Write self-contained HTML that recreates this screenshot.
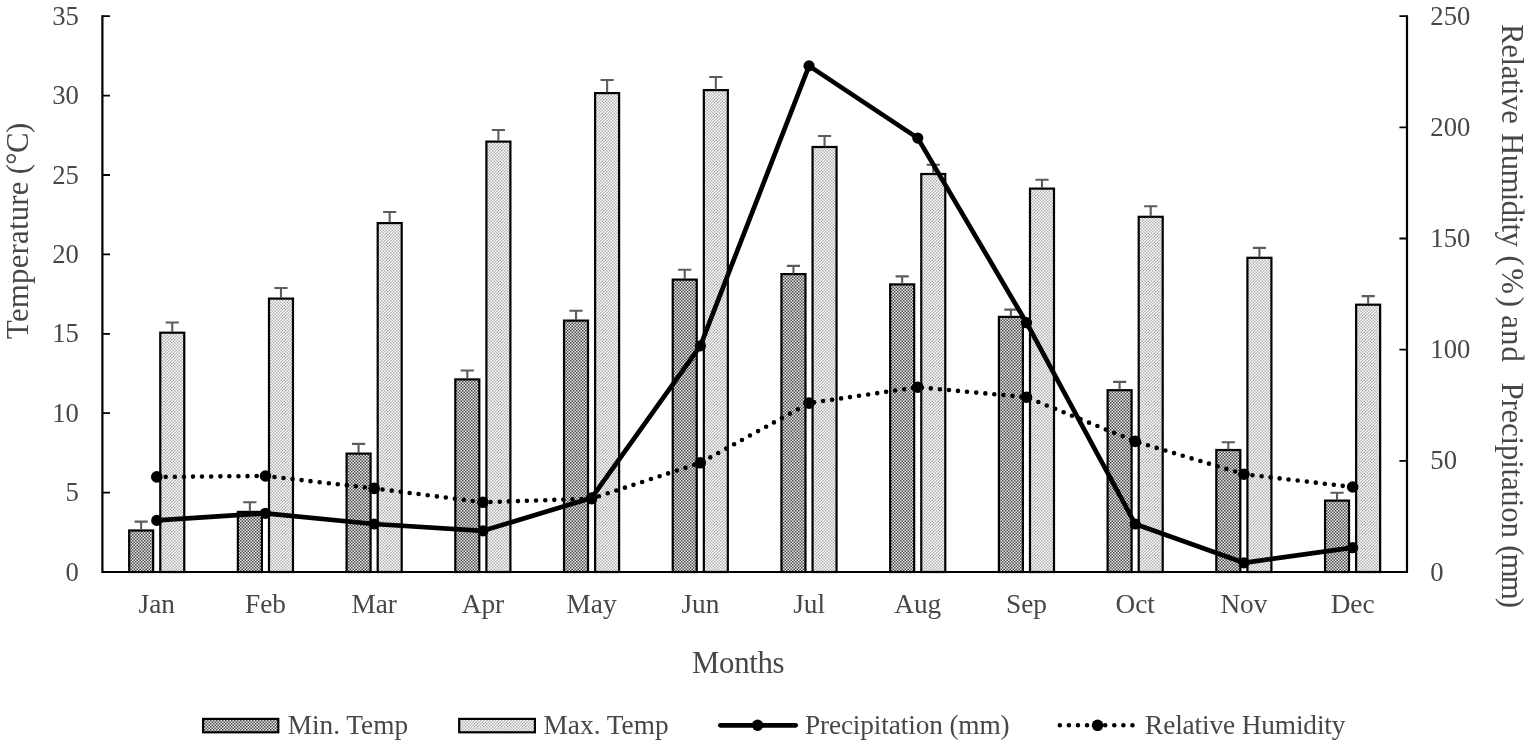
<!DOCTYPE html>
<html><head><meta charset="utf-8"><title>Climate chart</title>
<style>
html,body{margin:0;padding:0;background:#fff;}
body{width:1535px;height:748px;overflow:hidden;}
svg{display:block;}
text{font-family:"Liberation Serif",serif;fill:#474747;}
.t{font-size:27.3px;}
.n{font-size:26.67px;}
.T{font-size:30.8px;}
</style></head><body>
<svg width="1535" height="748" viewBox="0 0 1535 748">
<defs>
<pattern id="pd" width="3" height="3" patternUnits="userSpaceOnUse">
<rect width="3" height="3" fill="#e8e8e8"/>
<rect x="0" y="0" width="1.5" height="1.5" fill="#4c4c4c"/>
<rect x="1.5" y="1.5" width="1.5" height="1.5" fill="#4c4c4c"/>
</pattern>
<pattern id="pl" width="3" height="3" patternUnits="userSpaceOnUse">
<rect width="3" height="3" fill="#ffffff"/>
<rect x="0" y="0" width="1.5" height="1.5" fill="#b0b0b0"/>
<rect x="1.5" y="1.5" width="1.5" height="1.5" fill="#b0b0b0"/>
</pattern>
</defs>
<rect width="1535" height="748" fill="#fff"/>

<rect x="129.16" y="530.50" width="24.00" height="41.50" fill="url(#pd)" stroke="#000" stroke-width="2.2"/>
<rect x="160.26" y="332.70" width="24.00" height="239.30" fill="url(#pl)" stroke="#000" stroke-width="2.2"/>
<path d="M141.16 529.90V521.60M134.56 521.60H147.76" stroke="#5c5c5c" stroke-width="2.1" fill="none"/>
<path d="M172.26 332.10V322.50M165.66 322.50H178.86" stroke="#5c5c5c" stroke-width="2.1" fill="none"/>
<rect x="237.88" y="511.90" width="24.00" height="60.10" fill="url(#pd)" stroke="#000" stroke-width="2.2"/>
<rect x="268.98" y="298.60" width="24.00" height="273.40" fill="url(#pl)" stroke="#000" stroke-width="2.2"/>
<path d="M249.88 511.30V502.30M243.28 502.30H256.48" stroke="#5c5c5c" stroke-width="2.1" fill="none"/>
<path d="M280.98 298.00V288.00M274.38 288.00H287.58" stroke="#5c5c5c" stroke-width="2.1" fill="none"/>
<rect x="346.59" y="453.60" width="24.00" height="118.40" fill="url(#pd)" stroke="#000" stroke-width="2.2"/>
<rect x="377.69" y="223.10" width="24.00" height="348.90" fill="url(#pl)" stroke="#000" stroke-width="2.2"/>
<path d="M358.59 453.00V443.90M351.99 443.90H365.19" stroke="#5c5c5c" stroke-width="2.1" fill="none"/>
<path d="M389.69 222.50V212.00M383.09 212.00H396.29" stroke="#5c5c5c" stroke-width="2.1" fill="none"/>
<rect x="455.31" y="379.40" width="24.00" height="192.60" fill="url(#pd)" stroke="#000" stroke-width="2.2"/>
<rect x="486.41" y="141.60" width="24.00" height="430.40" fill="url(#pl)" stroke="#000" stroke-width="2.2"/>
<path d="M467.31 378.80V370.50M460.71 370.50H473.91" stroke="#5c5c5c" stroke-width="2.1" fill="none"/>
<path d="M498.41 141.00V130.00M491.81 130.00H505.01" stroke="#5c5c5c" stroke-width="2.1" fill="none"/>
<rect x="564.02" y="320.60" width="24.00" height="251.40" fill="url(#pd)" stroke="#000" stroke-width="2.2"/>
<rect x="595.12" y="93.10" width="24.00" height="478.90" fill="url(#pl)" stroke="#000" stroke-width="2.2"/>
<path d="M576.02 320.00V310.80M569.42 310.80H582.62" stroke="#5c5c5c" stroke-width="2.1" fill="none"/>
<path d="M607.12 92.50V80.00M600.52 80.00H613.73" stroke="#5c5c5c" stroke-width="2.1" fill="none"/>
<rect x="672.74" y="279.60" width="24.00" height="292.40" fill="url(#pd)" stroke="#000" stroke-width="2.2"/>
<rect x="703.84" y="90.10" width="24.00" height="481.90" fill="url(#pl)" stroke="#000" stroke-width="2.2"/>
<path d="M684.74 279.00V269.80M678.14 269.80H691.34" stroke="#5c5c5c" stroke-width="2.1" fill="none"/>
<path d="M715.84 89.50V77.00M709.24 77.00H722.44" stroke="#5c5c5c" stroke-width="2.1" fill="none"/>
<rect x="781.46" y="274.10" width="24.00" height="297.90" fill="url(#pd)" stroke="#000" stroke-width="2.2"/>
<rect x="812.56" y="147.00" width="24.00" height="425.00" fill="url(#pl)" stroke="#000" stroke-width="2.2"/>
<path d="M793.46 273.50V265.90M786.86 265.90H800.06" stroke="#5c5c5c" stroke-width="2.1" fill="none"/>
<path d="M824.56 146.40V136.00M817.96 136.00H831.16" stroke="#5c5c5c" stroke-width="2.1" fill="none"/>
<rect x="890.17" y="284.40" width="24.00" height="287.60" fill="url(#pd)" stroke="#000" stroke-width="2.2"/>
<rect x="921.27" y="174.00" width="24.00" height="398.00" fill="url(#pl)" stroke="#000" stroke-width="2.2"/>
<path d="M902.17 283.80V276.40M895.57 276.40H908.77" stroke="#5c5c5c" stroke-width="2.1" fill="none"/>
<path d="M933.27 173.40V164.80M926.67 164.80H939.87" stroke="#5c5c5c" stroke-width="2.1" fill="none"/>
<rect x="998.89" y="316.90" width="24.00" height="255.10" fill="url(#pd)" stroke="#000" stroke-width="2.2"/>
<rect x="1029.99" y="188.60" width="24.00" height="383.40" fill="url(#pl)" stroke="#000" stroke-width="2.2"/>
<path d="M1010.89 316.30V309.60M1004.29 309.60H1017.49" stroke="#5c5c5c" stroke-width="2.1" fill="none"/>
<path d="M1041.99 188.00V179.70M1035.39 179.70H1048.59" stroke="#5c5c5c" stroke-width="2.1" fill="none"/>
<rect x="1107.61" y="390.20" width="24.00" height="181.80" fill="url(#pd)" stroke="#000" stroke-width="2.2"/>
<rect x="1138.71" y="216.80" width="24.00" height="355.20" fill="url(#pl)" stroke="#000" stroke-width="2.2"/>
<path d="M1119.61 389.60V381.90M1113.01 381.90H1126.21" stroke="#5c5c5c" stroke-width="2.1" fill="none"/>
<path d="M1150.71 216.20V206.30M1144.11 206.30H1157.31" stroke="#5c5c5c" stroke-width="2.1" fill="none"/>
<rect x="1216.32" y="450.00" width="24.00" height="122.00" fill="url(#pd)" stroke="#000" stroke-width="2.2"/>
<rect x="1247.42" y="257.80" width="24.00" height="314.20" fill="url(#pl)" stroke="#000" stroke-width="2.2"/>
<path d="M1228.32 449.40V442.30M1221.72 442.30H1234.92" stroke="#5c5c5c" stroke-width="2.1" fill="none"/>
<path d="M1259.42 257.20V247.90M1252.83 247.90H1266.02" stroke="#5c5c5c" stroke-width="2.1" fill="none"/>
<rect x="1325.04" y="500.60" width="24.00" height="71.40" fill="url(#pd)" stroke="#000" stroke-width="2.2"/>
<rect x="1356.14" y="304.70" width="24.00" height="267.30" fill="url(#pl)" stroke="#000" stroke-width="2.2"/>
<path d="M1337.04 500.00V492.70M1330.44 492.70H1343.64" stroke="#5c5c5c" stroke-width="2.1" fill="none"/>
<path d="M1368.14 304.10V296.10M1361.54 296.10H1374.74" stroke="#5c5c5c" stroke-width="2.1" fill="none"/>
<path d="M102.4 15.2V572.0M1407.0 15.2V572.0M101.4 572.0H1408.0" stroke="#000" stroke-width="2.2" fill="none"/>
<path d="M102.4 572.00h7.6M102.4 492.60h7.6M102.4 413.20h7.6M102.4 333.80h7.6M102.4 254.40h7.6M102.4 175.00h7.6M102.4 95.60h7.6M102.4 16.20h7.6M1407.0 572.00h-7.6M1407.0 460.84h-7.6M1407.0 349.68h-7.6M1407.0 238.52h-7.6M1407.0 127.36h-7.6M1407.0 16.20h-7.6" stroke="#000" stroke-width="1.8" fill="none"/>
<polyline points="156.76,520.40 265.48,513.30 374.19,524.00 482.91,530.80 591.62,497.90 700.34,345.90 809.06,65.90 917.77,138.10 1026.49,322.70 1135.21,524.00 1243.92,562.80 1352.64,547.70" fill="none" stroke="#000" stroke-width="4.7" stroke-linejoin="round"/>
<circle cx="156.76" cy="520.40" r="5.6" fill="#000"/>
<circle cx="265.48" cy="513.30" r="5.6" fill="#000"/>
<circle cx="374.19" cy="524.00" r="5.6" fill="#000"/>
<circle cx="482.91" cy="530.80" r="5.6" fill="#000"/>
<circle cx="591.62" cy="497.90" r="5.6" fill="#000"/>
<circle cx="700.34" cy="345.90" r="5.6" fill="#000"/>
<circle cx="809.06" cy="65.90" r="5.6" fill="#000"/>
<circle cx="917.77" cy="138.10" r="5.6" fill="#000"/>
<circle cx="1026.49" cy="322.70" r="5.6" fill="#000"/>
<circle cx="1135.21" cy="524.00" r="5.6" fill="#000"/>
<circle cx="1243.92" cy="562.80" r="5.6" fill="#000"/>
<circle cx="1352.64" cy="547.70" r="5.6" fill="#000"/>
<path d="M156.76 476.90C156.76 476.90 265.48 476.00 265.48 476.00C265.48 476.00 374.19 488.40 374.19 488.40C374.19 488.40 482.91 502.30 482.91 502.30C482.91 502.30 591.62 498.60 591.62 498.60C591.62 498.60 700.34 462.80 700.34 462.80C700.34 462.80 809.06 403.10 809.06 403.10C809.06 403.10 917.77 387.20 917.77 387.20C917.77 387.20 1026.49 397.20 1026.49 397.20C1026.49 397.20 1135.21 441.40 1135.21 441.40C1135.21 441.40 1243.92 474.20 1243.92 474.20C1243.92 474.20 1352.64 487.00 1352.64 487.00" fill="none" stroke="#000" stroke-width="4.6" stroke-linecap="round" stroke-dasharray="0 9.07"/>
<circle cx="156.76" cy="476.90" r="5.8" fill="#000"/>
<circle cx="265.48" cy="476.00" r="5.8" fill="#000"/>
<circle cx="374.19" cy="488.40" r="5.8" fill="#000"/>
<circle cx="482.91" cy="502.30" r="5.8" fill="#000"/>
<circle cx="591.62" cy="498.60" r="5.8" fill="#000"/>
<circle cx="700.34" cy="462.80" r="5.8" fill="#000"/>
<circle cx="809.06" cy="403.10" r="5.8" fill="#000"/>
<circle cx="917.77" cy="387.20" r="5.8" fill="#000"/>
<circle cx="1026.49" cy="397.20" r="5.8" fill="#000"/>
<circle cx="1135.21" cy="441.40" r="5.8" fill="#000"/>
<circle cx="1243.92" cy="474.20" r="5.8" fill="#000"/>
<circle cx="1352.64" cy="487.00" r="5.8" fill="#000"/>
<text class="n" x="78.8" y="580.60" text-anchor="end">0</text>
<text class="n" x="78.8" y="501.20" text-anchor="end">5</text>
<text class="n" x="78.8" y="421.80" text-anchor="end">10</text>
<text class="n" x="78.8" y="342.40" text-anchor="end">15</text>
<text class="n" x="78.8" y="263.00" text-anchor="end">20</text>
<text class="n" x="78.8" y="183.60" text-anchor="end">25</text>
<text class="n" x="78.8" y="104.20" text-anchor="end">30</text>
<text class="n" x="78.8" y="24.80" text-anchor="end">35</text>
<text class="n" x="1430.3" y="580.60">0</text>
<text class="n" x="1430.3" y="469.44">50</text>
<text class="n" x="1430.3" y="358.28">100</text>
<text class="n" x="1430.3" y="247.12">150</text>
<text class="n" x="1430.3" y="135.96">200</text>
<text class="n" x="1430.3" y="24.80">250</text>
<text class="t" x="156.76" y="613" text-anchor="middle">Jan</text>
<text class="t" x="265.48" y="613" text-anchor="middle">Feb</text>
<text class="t" x="374.19" y="613" text-anchor="middle">Mar</text>
<text class="t" x="482.91" y="613" text-anchor="middle">Apr</text>
<text class="t" x="591.62" y="613" text-anchor="middle">May</text>
<text class="t" x="700.34" y="613" text-anchor="middle">Jun</text>
<text class="t" x="809.06" y="613" text-anchor="middle">Jul</text>
<text class="t" x="917.77" y="613" text-anchor="middle">Aug</text>
<text class="t" x="1026.49" y="613" text-anchor="middle">Sep</text>
<text class="t" x="1135.21" y="613" text-anchor="middle">Oct</text>
<text class="t" x="1243.92" y="613" text-anchor="middle">Nov</text>
<text class="t" x="1352.64" y="613" text-anchor="middle">Dec</text>
<text class="T" x="738.3" y="672.7" text-anchor="middle" textLength="92.6" lengthAdjust="spacing">Months</text>
<text class="T" transform="translate(27.6 338.9) rotate(-90)" textLength="157.4" lengthAdjust="spacing">Temperature</text>
<text class="T" transform="translate(27.6 174.3) rotate(-90)" textLength="51.5" lengthAdjust="spacing">(°C)</text>
<text class="T" transform="translate(1502.2 24.00) rotate(90)" textLength="100.00" lengthAdjust="spacing">Relative</text>
<text class="T" transform="translate(1502.2 133.10) rotate(90)" textLength="113.70" lengthAdjust="spacing">Humidity</text>
<text class="T" transform="translate(1502.2 255.40) rotate(90)" textLength="51.60" lengthAdjust="spacing">(%)</text>
<text class="T" transform="translate(1502.2 315.20) rotate(90)" textLength="46.60" lengthAdjust="spacing">and</text>
<text class="T" transform="translate(1502.2 382.50) rotate(90)" textLength="155.40" lengthAdjust="spacing">Precipitation</text>
<text class="T" transform="translate(1502.2 545.20) rotate(90)" textLength="62.90" lengthAdjust="spacing">(mm)</text>
<rect x="203.1" y="718.9" width="75.2" height="13.4" fill="url(#pd)" stroke="#000" stroke-width="2.2"/>
<text class="t" x="287.7" y="734">Min. Temp</text>
<rect x="459.2" y="718.9" width="75.7" height="13.4" fill="url(#pl)" stroke="#000" stroke-width="2.2"/>
<text class="t" x="543.6" y="734">Max. Temp</text>
<path d="M720.3 725.3H795.7" stroke="#000" stroke-width="4.7" stroke-linecap="round"/><circle cx="757.6" cy="725.3" r="5.7" fill="#000"/>
<text class="t" x="804.9" y="734" letter-spacing="-0.13">Precipitation (mm)</text>
<path d="M1059.8 725.3H1133.5" stroke="#000" stroke-width="4.6" stroke-linecap="round" stroke-dasharray="0 9.08"/><circle cx="1097.6" cy="725.3" r="5.8" fill="#000"/>
<text class="t" x="1145.1" y="734" letter-spacing="-0.13">Relative Humidity</text>
</svg></body></html>
